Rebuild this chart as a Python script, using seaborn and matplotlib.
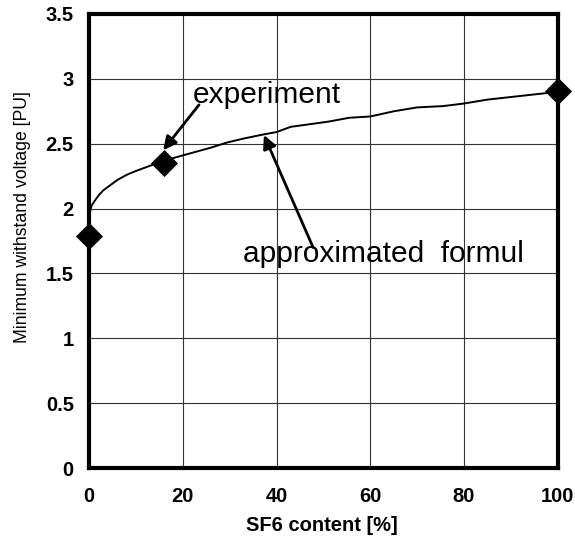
import matplotlib
matplotlib.use("Agg")
import matplotlib.pyplot as plt
import seaborn as sns
import pandas as pd

# experiment points
exp_x = [0, 16, 100]
exp_y = [1.79, 2.35, 2.91]

# approximated formula curve
fit_x = [0, 0.5, 1, 2, 3, 4.5, 6, 8, 10, 13, 16, 19, 22, 26, 29.5, 33, 37, 40, 43, 47, 51, 55.5, 60, 65, 70, 75.5, 80, 85, 90, 95, 100]
fit_y = [1.95, 2.02, 2.05, 2.10, 2.14, 2.18, 2.22, 2.26, 2.29, 2.33, 2.37, 2.40, 2.43, 2.47, 2.51, 2.54, 2.57, 2.59, 2.63, 2.65, 2.67, 2.70, 2.71, 2.75, 2.78, 2.79, 2.81, 2.84, 2.86, 2.88, 2.90]

x_ticks = [0, 20, 40, 60, 80, 100]
y_ticks = [0, 0.5, 1, 1.5, 2, 2.5, 3, 3.5]
y_tick_labels = ["0", "0.5", "1", "1.5", "2", "2.5", "3", "3.5"]

sns.set_theme(style="white")
plt.rcParams['font.family'] = ['Liberation Sans', 'DejaVu Sans']

fig = plt.figure(figsize=(5.75, 5.49), dpi=100)
ax = fig.add_axes([0.155, 0.1475, 0.815, 0.827])

fit_df = pd.DataFrame({"x": fit_x, "y": fit_y})
exp_df = pd.DataFrame({"x": exp_x, "y": exp_y})

sns.lineplot(data=fit_df, x="x", y="y", ax=ax, color="black", linewidth=1.4, zorder=3)
sns.scatterplot(data=exp_df, x="x", y="y", ax=ax, marker="D", s=190, color="black",
                edgecolor="black", linewidth=0, zorder=4, clip_on=False)

ax.set_xlim(0, 100)
ax.set_ylim(0, 3.5)
ax.set_xticks(x_ticks)
ax.set_yticks(y_ticks)
ax.set_yticklabels(y_tick_labels)
ax.grid(True, color="#333333", linewidth=0.8)
ax.set_axisbelow(True)
for sp in ax.spines.values():
    sp.set_visible(True)
    sp.set_color("black")
    sp.set_linewidth(3)

ax.tick_params(axis="both", length=0, labelsize=14.5, colors="black")
ax.tick_params(axis="x", pad=14)
ax.tick_params(axis="y", pad=11)
for lab in ax.get_xticklabels() + ax.get_yticklabels():
    lab.set_fontweight("bold")

ax.set_xlabel("SF6 content [%]", fontsize=14.5, fontweight="bold", color="black")
ax.xaxis.set_label_coords(0.497, -0.106)
ax.set_ylabel("Minimum withstand voltage [PU]", fontsize=12.7, color="black")
ax.yaxis.set_label_coords(-0.125, 0.553)

ax.text(22.2, 2.814, "experiment", fontsize=21.5, ha="left", va="baseline", color="black")
ax.text(32.8, 1.588, "approximated  formul", fontsize=21.5, ha="left", va="baseline", color="black")

arrow_kw = dict(arrowstyle="-|>", color="black", lw=2, mutation_scale=20, shrinkA=0, shrinkB=0)
ax.annotate("", xy=(15.8, 2.45), xytext=(23.45, 2.80), arrowprops=arrow_kw)
ax.annotate("", xy=(37.3, 2.567), xytext=(47.8, 1.70), arrowprops=arrow_kw)

fig.savefig("out.png", dpi=100)
